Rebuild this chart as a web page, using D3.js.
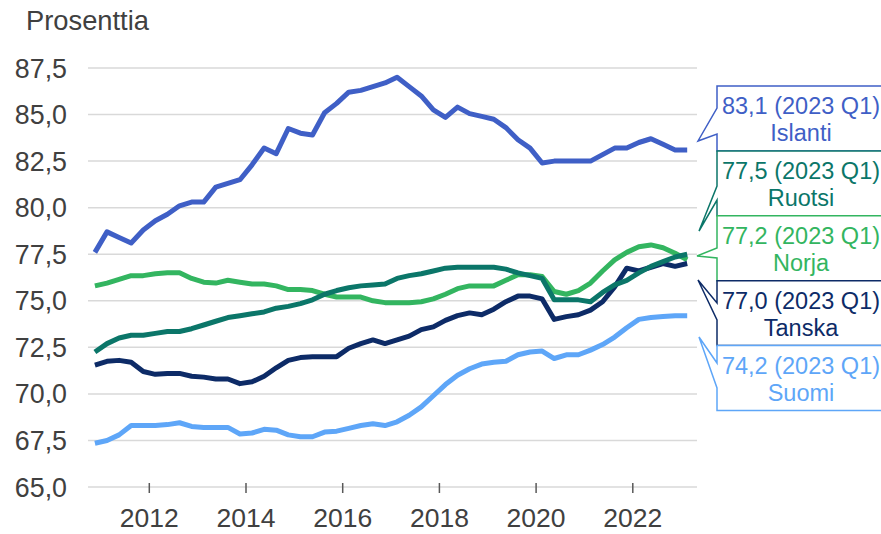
<!DOCTYPE html>
<html>
<head>
<meta charset="utf-8">
<script src="https://cdn.jsdelivr.net/npm/d3@7"></script>
<style>
  body { margin: 0; background: #fff; }
  svg { display: block; font-family: "Liberation Sans", Arial, sans-serif; }
</style>
</head>
<body>
<div id="main"></div>
<script>
// quarterly data, 2010 Q4 .. 2023 Q1
const quarters = [
  "2010Q4",
  "2011Q1","2011Q2","2011Q3","2011Q4","2012Q1","2012Q2","2012Q3","2012Q4",
  "2013Q1","2013Q2","2013Q3","2013Q4","2014Q1","2014Q2","2014Q3","2014Q4",
  "2015Q1","2015Q2","2015Q3","2015Q4","2016Q1","2016Q2","2016Q3","2016Q4",
  "2017Q1","2017Q2","2017Q3","2017Q4","2018Q1","2018Q2","2018Q3","2018Q4",
  "2019Q1","2019Q2","2019Q3","2019Q4","2020Q1","2020Q2","2020Q3","2020Q4",
  "2021Q1","2021Q2","2021Q3","2021Q4","2022Q1","2022Q2","2022Q3","2022Q4",
  "2023Q1"
];

const islanti = [77.6, 78.7, 78.4, 78.1, 78.8, 79.3, 79.65, 80.1, 80.3, 80.3,
  81.1, 81.3, 81.5, 82.3, 83.2, 82.9, 84.25, 84.0, 83.9, 85.1,
  85.6, 86.2, 86.3, 86.5, 86.7, 87.0, 86.5, 86.0, 85.25, 84.85,
  85.4, 85.05, 84.9, 84.75, 84.3, 83.65, 83.2, 82.4, 82.5, 82.5,
  82.5, 82.5, 82.85, 83.2, 83.2, 83.5, 83.7, 83.4, 83.1, 83.1];

const ruotsi = [72.25, 72.7, 73.0, 73.15, 73.15, 73.25, 73.35, 73.35, 73.5, 73.7,
  73.9, 74.1, 74.2, 74.3, 74.4, 74.6, 74.7, 74.85, 75.05, 75.35,
  75.55, 75.7, 75.8, 75.85, 75.9, 76.2, 76.35, 76.45, 76.6, 76.75,
  76.8, 76.8, 76.8, 76.8, 76.7, 76.5, 76.35, 76.2, 75.05, 75.05,
  75.05, 74.95, 75.45, 75.85, 76.1, 76.5, 76.85, 77.1, 77.35, 77.5];

const norja = [75.8, 75.95, 76.15, 76.35, 76.35, 76.45, 76.5, 76.5, 76.2, 76.0,
  75.95, 76.1, 76.0, 75.9, 75.9, 75.8, 75.6, 75.6, 75.55, 75.35,
  75.2, 75.2, 75.2, 75.0, 74.9, 74.9, 74.9, 74.95, 75.1, 75.35,
  75.65, 75.8, 75.8, 75.8, 76.1, 76.4, 76.4, 76.3, 75.5, 75.35,
  75.55, 75.95, 76.6, 77.2, 77.6, 77.9, 78.0, 77.85, 77.55, 77.2];

const tanska = [71.55, 71.75, 71.8, 71.7, 71.2, 71.05, 71.1, 71.1, 70.95, 70.9,
  70.8, 70.8, 70.55, 70.65, 70.95, 71.4, 71.8, 71.95, 72.0, 72.0,
  72.0, 72.45, 72.7, 72.9, 72.7, 72.9, 73.1, 73.45, 73.6, 73.95,
  74.2, 74.35, 74.25, 74.55, 74.95, 75.25, 75.25, 75.1, 74.0, 74.15,
  74.25, 74.5, 74.95, 75.75, 76.75, 76.6, 76.8, 77.0, 76.85, 77.0];

const suomi = [67.35, 67.5, 67.8, 68.3, 68.3, 68.3, 68.35, 68.45, 68.25, 68.2,
  68.2, 68.2, 67.85, 67.9, 68.1, 68.05, 67.8, 67.7, 67.7, 67.95,
  68.0, 68.15, 68.3, 68.4, 68.3, 68.5, 68.85, 69.3, 69.9, 70.5,
  71.0, 71.35, 71.6, 71.7, 71.75, 72.1, 72.25, 72.3, 71.9, 72.1,
  72.1, 72.35, 72.65, 73.05, 73.55, 74.0, 74.1, 74.15, 74.2, 74.2];

const yTicks = [65, 67.5, 70, 72.5, 75, 77.5, 80, 82.5, 85, 87.5];
const xTicks = [2012, 2014, 2016, 2018, 2020, 2022];

const series = [
  { name: "Islanti", values: islanti, color: "#3F5FC6", label: "83,1 (2023 Q1)" },
  { name: "Ruotsi", values: ruotsi, color: "#0B7669", label: "77,5 (2023 Q1)" },
  { name: "Norja", values: norja, color: "#33B560", label: "77,2 (2023 Q1)" },
  { name: "Tanska", values: tanska, color: "#0D2B67", label: "77,0 (2023 Q1)" },
  { name: "Suomi", values: suomi, color: "#5EA6F8", label: "74,2 (2023 Q1)" }
];
const drawOrder = ["Suomi", "Norja", "Tanska", "Ruotsi", "Islanti"];

// callout pointer tips and where the wedge meets the box edge
const callouts = {
  Islanti: { tip: [698, 141], base: [108, 134] },
  Ruotsi: { tip: [699, 231], base: [186, 200] },
  Norja: { tip: [697, 256], base: [248, 258] },
  Tanska: { tip: [698, 280], base: [303, 320] },
  Suomi: { tip: [699, 337], base: [363, 388] }
};

const width = 881;
const height = 534;
const plotLeft = 88, plotRight = 697, plotTop = 68, plotBottom = 487;

const quarterTime = q => +q.slice(0, 4) + (+q.slice(5) - 0.5) / 4;

const x = d3.scaleLinear().domain([2012, 2022]).range([149.3, 632.8]);
const y = d3.scaleLinear().domain([65, 87.5]).range([plotBottom, plotTop]);

const svg = d3.select("#main")
  .append("svg")
  .attr("width", width)
  .attr("height", height);

// grid
svg.append("g")
  .selectAll("line")
  .data(yTicks)
  .enter()
  .append("line")
  .attr("x1", plotLeft)
  .attr("x2", plotRight)
  .attr("y1", d => y(d))
  .attr("y2", d => y(d))
  .attr("stroke", "#D9D9D9")
  .attr("stroke-width", 1.5);

// y labels
svg.append("g")
  .selectAll("text")
  .data(yTicks)
  .enter()
  .append("text")
  .attr("x", 67)
  .attr("y", d => y(d) + 9.5)
  .attr("text-anchor", "end")
  .attr("font-size", 26.8)
  .attr("fill", "#404040")
  .text(d => d3.format(".1f")(d).replace(".", ","));

svg.append("text")
  .attr("x", 26)
  .attr("y", 30)
  .attr("font-size", 27.3)
  .attr("fill", "#404040")
  .text("Prosenttia");

// x ticks and labels
const xAxis = svg.append("g");
xAxis.selectAll("line")
  .data(xTicks)
  .enter()
  .append("line")
  .attr("x1", d => x(d))
  .attr("x2", d => x(d))
  .attr("y1", plotBottom - 4)
  .attr("y2", plotBottom + 6)
  .attr("stroke", "#595959")
  .attr("stroke-width", 1.5);

xAxis.selectAll("text")
  .data(xTicks)
  .enter()
  .append("text")
  .attr("x", d => x(d))
  .attr("y", 527)
  .attr("text-anchor", "middle")
  .attr("font-size", 26.5)
  .attr("fill", "#404040")
  .text(d => d);

// lines
const line = d3.line()
  .x((d, i) => x(quarterTime(quarters[i])))
  .y(d => y(d));

svg.append("g")
  .selectAll("path")
  .data(drawOrder.map(n => series.find(s => s.name === n)))
  .enter()
  .append("path")
  .attr("d", d => line(d.values))
  .attr("fill", "none")
  .attr("stroke", d => d.color)
  .attr("stroke-width", 5)
  .attr("stroke-linejoin", "round");

// callout boxes
const boxLeft = 717, boxRight = 895, boxTop = 86, boxH = 64.9;

const boxes = svg.append("g")
  .selectAll("g")
  .data(series)
  .enter()
  .append("g");

boxes.append("path")
  .attr("d", (d, i) => {
    const t = boxTop + i * boxH;
    const b = t + boxH;
    const c = callouts[d.name];
    return `M${boxLeft},${t} H${boxRight} V${b} H${boxLeft} V${c.base[1]} L${c.tip[0]},${c.tip[1]} L${boxLeft},${c.base[0]} Z`;
  })
  .attr("fill", "#fff")
  .attr("stroke", d => d.color)
  .attr("stroke-width", 1.5);

boxes.append("text")
  .attr("x", 801)
  .attr("y", (d, i) => boxTop + i * boxH + 28)
  .attr("text-anchor", "middle")
  .attr("font-size", 23.5)
  .attr("fill", d => d.color)
  .text(d => d.label);

boxes.append("text")
  .attr("x", 801)
  .attr("y", (d, i) => boxTop + i * boxH + 55)
  .attr("text-anchor", "middle")
  .attr("font-size", 23.5)
  .attr("fill", d => d.color)
  .text(d => d.name);
</script>
</body>
</html>
